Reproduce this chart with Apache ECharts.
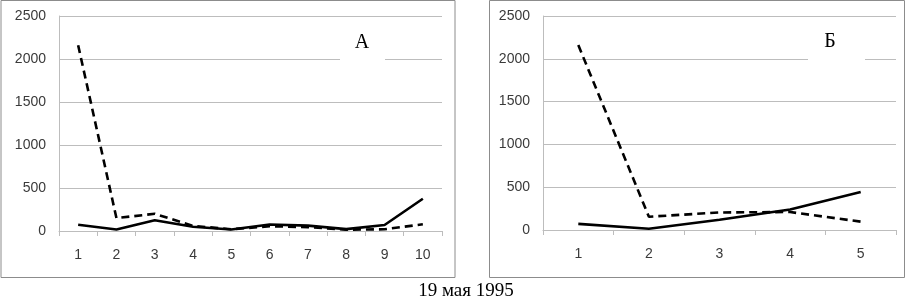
<!DOCTYPE html>
<html>
<head>
<meta charset="utf-8">
<script src="https://cdn.jsdelivr.net/npm/echarts@6/dist/echarts.min.js"></script>
<style>
  html, body { margin: 0; padding: 0; background: #fff; }
  #chart { width: 909px; height: 300px; }
</style>
</head>
<body>
<div id="chart"></div>
<script>
// панель А
var catsA = ['1', '2', '3', '4', '5', '6', '7', '8', '9', '10'];
var solidA = [72, 18, 125, 50, 18, 75, 62, 22, 70, 375];
var dashA = [2160, 150, 200, 60, 20, 55, 45, 15, 20, 78];
// панель Б
var catsB = ['1', '2', '3', '4', '5'];
var solidB = [72, 15, 120, 240, 445];
var dashB = [2160, 155, 205, 210, 98];
var yTicks = [0, 500, 1000, 1500, 2000, 2500];

var grey = '#bdbdbd';
var labelColor = '#3a3a3a';

function xAxis(idx, cats) {
  return {
    type: 'category', gridIndex: idx, data: cats, boundaryGap: true,
    axisLine: { lineStyle: { color: grey, width: 1 } },
    axisTick: { show: true, interval: 0, length: 5, lineStyle: { color: grey } },
    axisLabel: { color: labelColor, fontFamily: 'Liberation Sans', fontSize: 14, margin: 17 }
  };
}
function yAxis(idx) {
  return {
    type: 'value', gridIndex: idx, min: yTicks[0], max: yTicks[yTicks.length - 1], interval: 500,
    axisLine: { show: true, lineStyle: { color: grey, width: 1 } },
    axisTick: { show: false },
    splitLine: { lineStyle: { color: grey, width: 1 } },
    axisLabel: { color: labelColor, fontFamily: 'Liberation Sans', fontSize: 14, margin: 13,
      formatter: function (v) { return String(v); } }
  };
}
function line(idx, data, dashed) {
  return {
    type: 'line', xAxisIndex: idx, yAxisIndex: idx, data: data,
    symbol: 'none', silent: true, z: dashed ? 3 : 4,
    lineStyle: { color: '#000', width: 2.6, type: dashed ? [8, 5] : 'solid' }
  };
}

var chart = echarts.init(document.getElementById('chart'));
chart.setOption({
  animation: false,
  backgroundColor: '#fff',
  grid: [
    { left: 59, right: 467, top: 16, bottom: 69 },
    { left: 543, right: 13, top: 16, bottom: 70 }
  ],
  xAxis: [xAxis(0, catsA), xAxis(1, catsB)],
  yAxis: [yAxis(0), yAxis(1)],
  series: [
    line(0, dashA, true), line(0, solidA, false),
    line(1, dashB, true), line(1, solidB, false)
  ],
  graphic: [
    { type: 'rect', shape: { x: 1, y: 0.5, width: 454, height: 277 }, style: { fill: null, stroke: '#8c8c8c', lineWidth: 1 }, z: 1 },
    { type: 'rect', shape: { x: 489.5, y: 0.5, width: 415, height: 277 }, style: { fill: null, stroke: '#8c8c8c', lineWidth: 1 }, z: 1 },
    { type: 'rect', shape: { x: 340, y: 28, width: 45, height: 34 }, style: { fill: '#fff' }, z: 10 },
    { type: 'text', x: 362, y: 43, z: 11, style: { text: 'А', font: '20px "Liberation Serif"', fill: '#000', textAlign: 'center', textVerticalAlign: 'middle' } },
    { type: 'rect', shape: { x: 808, y: 28, width: 57, height: 34 }, style: { fill: '#fff' }, z: 10 },
    { type: 'text', x: 830, y: 42, z: 11, style: { text: 'Б', font: '20px "Liberation Serif"', fill: '#000', textAlign: 'center', textVerticalAlign: 'middle' } },
    { type: 'text', x: 466, y: 291, z: 11, style: { text: '19 мая 1995', font: '19px "Liberation Serif"', fill: '#000', textAlign: 'center', textVerticalAlign: 'middle' } }
  ]
});
</script>
</body>
</html>
